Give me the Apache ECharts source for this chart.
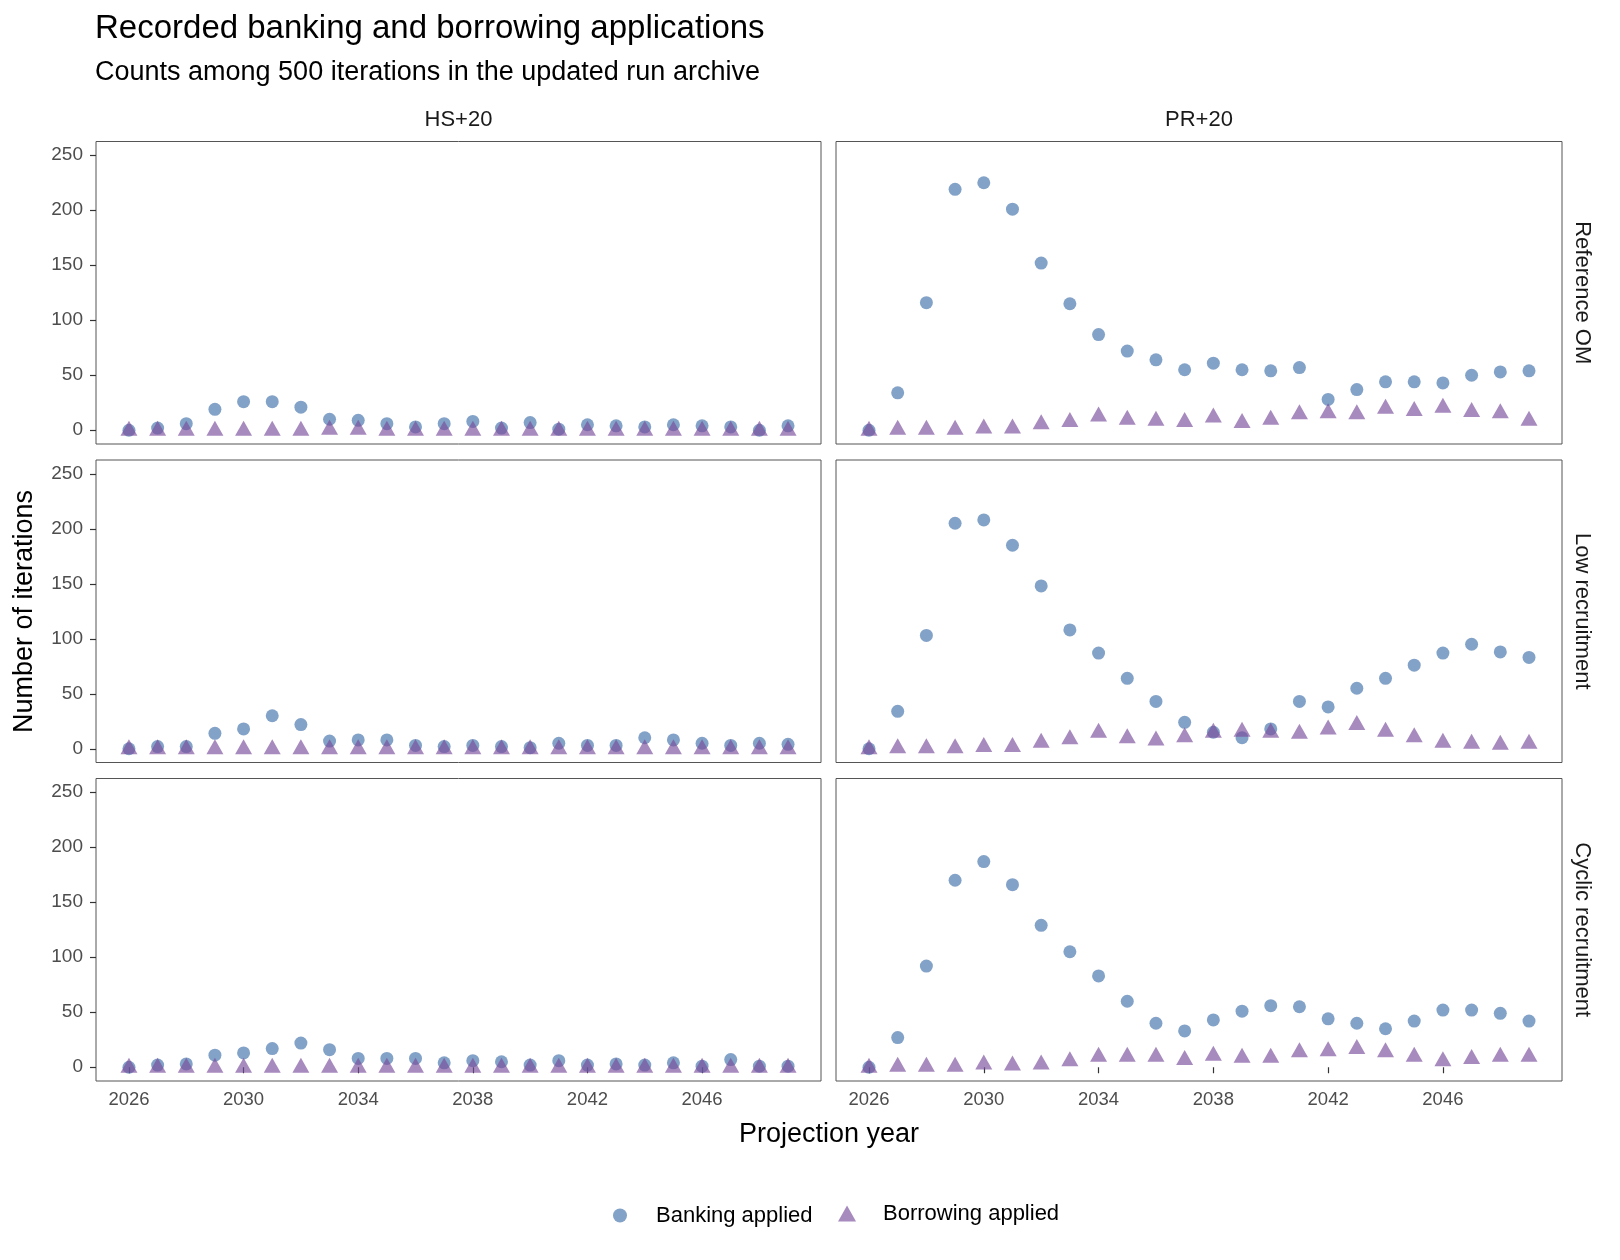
<!DOCTYPE html>
<html>
<head>
<meta charset="utf-8">
<script src="https://cdn.jsdelivr.net/npm/echarts@6/dist/echarts.min.js"></script>
<style>
html,body{margin:0;padding:0;background:#fff;}
#chart{width:1620px;height:1260px;}
</style>
</head>
<body>
<div id="chart"></div>
<script>
// ---- data ----
const years = [2026,2027,2028,2029,2030,2031,2032,2033,2034,2035,2036,2037,2038,2039,2040,2041,2042,2043,2044,2045,2046,2047,2048,2049];
const xTickYears = [2026,2030,2034,2038,2042,2046];
const yTicks = [0,50,100,150,200,250];
const colLabels = ['HS+20','PR+20'];
const rowLabels = ['Reference OM','Low recruitment','Cyclic recruitment'];
const seriesNames = ['Banking applied','Borrowing applied'];

// HS+20
const hsRefBanking  = [0,2,6,19,26,26,21,10,9,6,3,6,8,2,7,1,5,4,3,5,4,3,0,4];
const hsRefBorrow   = [0,0,0,0,0,0,0,1,1,0,0,0,0,0,0,0,0,0,0,0,0,0,0,0];
const hsLowBanking  = [0,2,2,14,18,30,22,7,8,8,3,2,3,2,1,5,3,3,10,8,5,3,5,4];
const hsLowBorrow   = [0,0,0,0,0,0,0,0,0,0,0,0,0,0,0,0,0,0,0,0,0,0,0,0];
const hsCycBanking  = [0,2,3,11,13,17,22,16,8,8,8,4,6,5,2,6,2,3,2,4,1,7,1,1];
const hsCycBorrow   = [0,0,0,0,0,0,0,0,0,0,0,0,0,0,0,0,0,0,0,0,0,0,0,0];
// PR+20
const prRefBanking  = [0,34,116,219,225,201,152,115,87,72,64,55,61,55,54,57,28,37,44,44,43,50,53,54];
const prRefBorrow   = [0,1,1,1,2,2,6,8,13,10,9,8,12,7,10,15,16,15,20,18,21,17,16,9];
const prLowBanking  = [0,34,103,205,208,185,148,108,87,64,43,24,15,10,18,43,38,55,64,76,87,95,88,83];
const prLowBorrow   = [0,1,1,1,2,2,6,9,15,10,8,11,15,16,15,14,18,22,16,11,6,5,4,5];
const prCycBanking  = [0,27,92,170,187,166,129,105,83,60,40,33,43,51,56,55,44,40,35,42,52,52,49,42];
const prCycBorrow   = [0,1,1,1,3,2,3,6,10,10,10,7,11,9,9,14,15,17,14,10,6,8,10,10];

const panelBanking = [[hsRefBanking, prRefBanking],[hsLowBanking, prLowBanking],[hsCycBanking, prCycBanking]];
const panelBorrow  = [[hsRefBorrow, prRefBorrow],[hsLowBorrow, prLowBorrow],[hsCycBorrow, prCycBorrow]];

// ---- layout / style ----
const FONT = '"Liberation Sans", Arial, Helvetica, sans-serif';
const colLeft = [96, 836];
const colWidth = [725, 726];
const rowTop = [141.5, 460, 778.5];
const rowHeight = 302.5;
const blue = 'rgba(66,113,170,0.82)';
const purple = 'rgba(120,76,155,0.82)';

const grids = [], xAxes = [], yAxes = [], series = [];
for (let r = 0; r < 3; r++) {
  for (let c = 0; c < 2; c++) {
    const gi = r * 2 + c;
    grids.push({left: colLeft[c], top: rowTop[r], width: colWidth[c], height: rowHeight,
      show: true, borderColor: '#555555', borderWidth: 1, backgroundColor: 'transparent'});
    const bottom = r === 2;
    xAxes.push({type: 'value', gridIndex: gi, min: 2024.85, max: 2050.15,
      splitLine: {show: false}, axisLine: {show: false},
      axisTick: {show: bottom, length: 6, lineStyle: {color: '#333333', width: 1.2}, customValues: xTickYears},
      axisLabel: {show: bottom, margin: 9, color: '#4d4d4d', fontSize: 18.5, fontFamily: FONT,
        customValues: xTickYears, formatter: v => String(v)}
    });
    const left = c === 0;
    yAxes.push({type: 'value', gridIndex: gi, min: -12.5, max: 262.5,
      splitLine: {show: false}, axisLine: {show: false},
      axisTick: {show: left, length: 6, lineStyle: {color: '#333333', width: 1.2}, customValues: yTicks},
      axisLabel: {show: left, margin: 13, color: '#4d4d4d', fontSize: 19, fontFamily: FONT,
        customValues: yTicks, formatter: v => String(v)}
    });
    series.push({type: 'scatter', name: seriesNames[0], xAxisIndex: gi, yAxisIndex: gi,
      symbol: 'circle', symbolSize: 13, itemStyle: {color: blue},
      data: years.map((y, i) => [y, panelBanking[r][c][i]]), z: 2});
    series.push({type: 'scatter', name: seriesNames[1], xAxisIndex: gi, yAxisIndex: gi,
      symbol: 'triangle', symbolSize: [17, 15], symbolOffset: [0, -2], itemStyle: {color: purple},
      data: years.map((y, i) => [y, panelBorrow[r][c][i]]), z: 3});
  }
}

const graphics = [];
// column strips
for (let c = 0; c < 2; c++) {
  graphics.push({type: 'text', x: colLeft[c] + colWidth[c] / 2, y: 120,
    style: {text: colLabels[c], font: '22px ' + FONT, fill: '#1a1a1a', align: 'center', verticalAlign: 'middle'}});
}
// row strips
for (let r = 0; r < 3; r++) {
  graphics.push({type: 'text', x: 1582, y: rowTop[r] + rowHeight / 2, rotation: -Math.PI / 2,
    style: {text: rowLabels[r], font: '22px ' + FONT, fill: '#1a1a1a', align: 'center', verticalAlign: 'middle'}});
}
// axis titles
graphics.push({type: 'text', x: 829, y: 1135,
  style: {text: 'Projection year', font: '27px ' + FONT, fill: '#000000', align: 'center', verticalAlign: 'middle'}});
graphics.push({type: 'text', x: 25, y: 611.5, rotation: Math.PI / 2,
  style: {text: 'Number of iterations', font: '27px ' + FONT, fill: '#000000', align: 'center', verticalAlign: 'middle'}});

const option = {
  animation: false,
  backgroundColor: '#ffffff',
  title: {
    text: 'Recorded banking and borrowing applications',
    subtext: 'Counts among 500 iterations in the updated run archive',
    left: 95, top: 12, padding: 0, itemGap: 14,
    textStyle: {fontFamily: FONT, fontSize: 33, fontWeight: 'normal', color: '#000000'},
    subtextStyle: {fontFamily: FONT, fontSize: 27, color: '#000000'}
  },
  legend: [
    {data: [{name: seriesNames[0], icon: 'circle'}], left: 613, top: 1204.5, padding: 0,
     itemWidth: 14, itemHeight: 14, selectedMode: false,
     textStyle: {fontFamily: FONT, fontSize: 22, color: '#000000', padding: [0, 0, 0, 24]}},
    {data: [{name: seriesNames[1], icon: 'triangle'}], left: 838, top: 1202.5, padding: 0,
     itemWidth: 18, itemHeight: 16, selectedMode: false,
     textStyle: {fontFamily: FONT, fontSize: 22, color: '#000000', padding: [0, 0, 0, 22]}}
  ],
  grid: grids,
  xAxis: xAxes,
  yAxis: yAxes,
  series: series,
  graphic: graphics
};

const chart = echarts.init(document.getElementById('chart'), null, {renderer: 'canvas'});
chart.setOption(option);
</script>
</body>
</html>
